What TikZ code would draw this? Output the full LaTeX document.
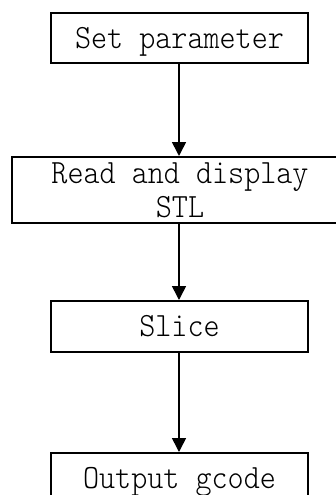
\documentclass[tikz,border=0pt]{standalone}
\usepackage{fontspec}
\newfontfamily\boxfont{lmmonolt10-regular}[Extension=.otf, FakeStretch=0.9]
\usetikzlibrary{arrows.meta}

\begin{document}
\begin{tikzpicture}[x=1pt, y=-1pt,
  stepbox/.style={draw, line width=2pt, inner sep=0pt,
    minimum width=257pt, minimum height=50pt,
    font=\boxfont\fontsize{34}{34}\selectfont,
    text height=20.8pt, text depth=0pt},
  flow/.style={line width=1.6pt, -{Triangle[width=14pt, length=14pt]}}]
  \useasboundingbox (0,0) rectangle (336,495);
  \clip (0,0) rectangle (336,495);

  % process steps
  \node[stepbox] (set) at (179.5,38) {Set parameter};
  \node[stepbox, minimum width=336pt, minimum height=66pt,
        align=center, text height=54.8pt] (read) at (180,190)
        {Read and display\\STL};
  \node[stepbox, minimum height=51pt] (slice) at (179.5,326.5) {Slice};
  \node[stepbox] (out) at (179.5,478) {Output gcode};

  % flow arrows
  \draw[flow] (set.south -| 179,0) -- (read.north -| 179,0);
  \draw[flow] (read.south -| 179,0) -- (slice.north -| 179,0);
  \draw[flow] (slice.south -| 179,0) -- (out.north -| 179,0);
\end{tikzpicture}
\end{document}
